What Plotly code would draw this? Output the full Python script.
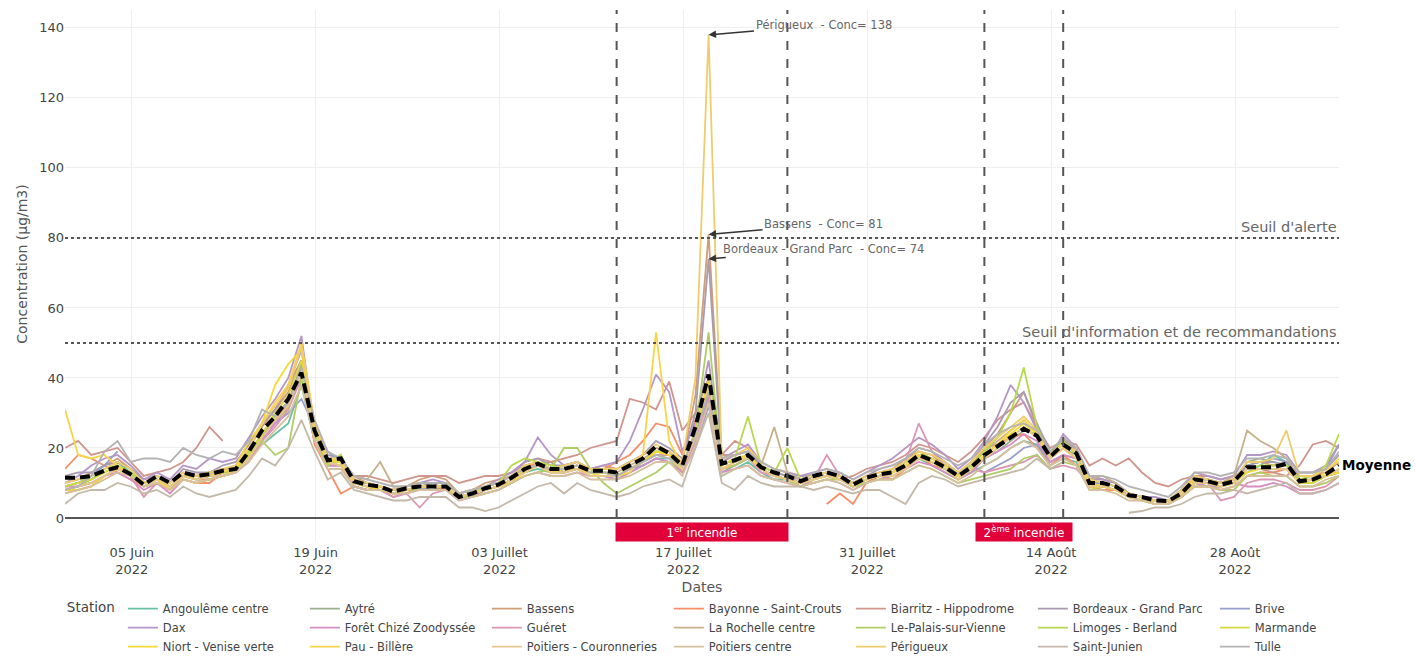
import pandas as pd
import plotly.graph_objects as go
import plotly.colors as pc

# ---------------- data ----------------
START = "2022-05-30 22:00"   # local midnight 31 May (UTC+2)
N_DAYS = 98

stations = ["Angoulême centre", "Aytré", "Bassens", "Bayonne - Saint-Crouts",
            "Biarritz - Hippodrome", "Bordeaux - Grand Parc", "Brive", "Dax",
            "Forêt Chizé Zoodyssée", "Guéret", "La Rochelle centre",
            "Le-Palais-sur-Vienne", "Limoges - Berland", "Marmande",
            "Niort - Venise verte", "Pau - Billère", "Poitiers - Couronneries",
            "Poitiers centre", "Périgueux", "Saint-Junien", "Tulle"]
# position of each station in the colour sequence (colours follow an accent-insensitive order)
colour_rank = [0, 1, 2, 3, 4, 5, 6, 7, 8, 9, 10, 11, 12, 13, 14, 15, 17, 18, 16, 19, 20]

angouleme = [9,10,11,14,16,13,9,10,8,12, 11,11,12,13,17,21,24,27,38,22, 15,18,9,8,8,7,8,8,8,9, 6,6,8,9,11,13,14,13,13,14, 12,12,11,13,15,17,17,13,22,35, 12,14,16,13,11,11,9,11,12,11, 9,10,12,13,15,17,15,13,11,13, 15,17,20,22,21,15,17,16,9,9, 8,6,5,5,4,6,10,9,9,10, 13,15,18,16,10,10,12,13]
aytre = [8,9,10,12,14,13,10,11,9,12, 12,13,13,13,17,22,30,33,44,26, 16,16,10,10,9,8,8,9,10,8, 6,7,8,9,10,14,15,16,13,14, 12,12,12,14,16,19,19,14,24,37, 13,15,17,14,12,11,10,11,12,11, 9,11,12,13,15,17,16,14,12,13, 17,19,22,25,24,17,20,18,10,10, 9,6,5,5,4,7,10,10,9,10, 16,17,16,15,10,11,12,14]
bassens = [10,11,13,15,17,14,10,12,10,13, 12,13,14,14,20,26,31,36,45,25, 17,16,12,10,9,8,9,11,12,11, 7,8,10,11,12,15,16,14,15,16, 14,15,14,16,18,20,19,16,35,81, 18,18,19,15,13,12,11,12,13,12, 10,12,13,14,17,19,18,15,13,15, 20,24,30,36,26,18,23,19,12,11, 10,7,6,5,5,8,12,11,10,11, 15,16,15,16,12,12,13,16]
bayonne = [14,18,17,15,13,11,9,11,8,11, 10,10,13,15,19,23,28,33,43,21, 14,7,9,8,9,7,7,9,9,8, 6,7,9,10,12,14,16,13,14,15, 13,14,16,18,22,27,26,18,28,35, 16,18,19,14,12,11,9,None,4,7, 4,10,12,11,14,18,15,14,12,14, 20,21,23,24,20,15,18,15,9,8, 8,6,5,5,4,6,9,9,8,9, 12,13,13,14,10,11,12,13]
biarritz = [20,22,18,19,20,16,12,13,14,16, 20,26,22,None,None,None,30,38,45,22, 15,15,12,12,11,10,11,12,12,12, 10,11,12,12,13,16,17,16,17,18, 20,21,22,34,33,31,39,25,30,40, 18,22,20,16,14,13,12,12,13,11, 12,14,15,16,18,21,20,18,16,19, 23,28,31,33,26,20,22,21,15,17, 15,17,13,10,9,11,12,12,11,12, 14,14,13,12,15,21,22,20]
bordeaux = [12,13,13,15,16,14,11,12,10,14, 13,13,15,16,21,27,31,38,48,26, 18,17,11,10,9,8,9,10,10,10, 7,8,9,10,12,16,17,15,15,16, 14,14,14,16,18,22,20,17,30,74, 16,18,19,15,13,12,10,12,13,12, 10,12,14,15,17,20,19,16,13,16, 21,26,33,36,27,19,22,20,11,11, 10,7,6,5,5,8,12,11,10,11, 16,16,16,15,12,12,14,18]
brive = [9,10,12,15,19,None,None,None,None,None, 11,12,13,14,18,24,27,30,34,26, 19,16,10,9,8,7,8,8,9,9, 6,7,8,9,11,13,15,14,13,14, 12,12,12,14,15,17,16,13,20,32, 14,15,17,14,12,11,10,12,12,11, 9,11,12,13,15,18,17,15,13,15, 13,15,17,20,21,16,18,17,10,10, 9,7,6,5,5,7,11,11,10,11, 15,16,17,16,12,12,14,21]
dax = [10,12,15,17,18,15,11,13,11,15, 14,17,16,17,23,29,34,40,52,25, 16,17,11,10,9,8,9,10,11,10, 7,8,9,11,13,16,23,18,15,16, 14,15,16,22,31,41,36,19,27,45, 17,19,21,16,14,13,12,13,14,13, 11,13,15,17,20,23,21,18,14,17, 22,29,38,33,25,17,24,20,12,11, 10,7,6,6,5,8,13,12,11,12, 18,18,19,18,13,13,15,21]
foret_chize = [9,9,10,12,13,11,8,10,7,11, 10,11,12,13,16,22,27,32,42,24, 15,15,9,8,8,6,7,8,8,8, 5,6,7,8,10,12,13,12,12,13, 12,12,11,13,15,17,16,13,22,34, 13,14,15,12,11,10,9,10,11,10, 8,10,11,12,14,16,15,13,11,13, 17,19,21,24,22,16,18,17,9,9, 8,6,5,4,4,6,10,9,9,10, 9,9,10,9,7,7,8,10]
gueret = [8,9,10,12,14,12,6,10,8,12, 11,11,12,13,17,22,26,31,40,24, 16,16,9,8,8,6,7,3,7,8, 6,6,8,9,11,14,15,13,13,14, 12,12,12,14,16,18,18,13,24,33, 14,15,17,13,12,11,9,11,18,12, 9,11,12,13,16,27,19,15,12,14, 13,14,15,16,18,14,15,14,10,9, 8,6,5,5,4,7,10,10,5,6, 10,11,11,10,8,8,9,12]
la_rochelle = [7,8,9,12,14,12,9,11,9,12, 12,13,13,14,18,23,28,31,43,27, 17,17,12,11,16,9,9,10,10,10, 7,8,9,10,12,14,15,14,14,15, 13,13,13,15,17,19,18,15,25,38, 16,16,17,15,26,13,11,12,13,12, 10,12,12,14,16,18,17,15,12,15, 19,22,25,28,24,18,22,19,11,12, 10,7,6,5,5,7,11,11,10,12, 25,22,20,17,11,11,12,13]
le_palais = [9,10,12,14,15,13,9,11,9,12, 11,12,13,14,18,22,18,20,40,25, 15,18,10,9,8,7,8,8,8,8, 6,6,7,8,10,12,13,14,20,20, 14,10,7,9,11,13,16,14,25,53, 14,15,17,14,12,11,9,10,11,11, 9,10,11,11,13,15,14,12,10,11, 12,13,14,17,18,14,16,15,9,9, 8,6,5,4,4,6,9,9,8,8, 12,13,12,12,9,9,10,12]
limoges = [8,9,11,13,15,13,10,11,9,12, 11,12,13,14,19,24,29,33,42,24, 15,18,10,9,9,7,8,9,9,9, 6,7,9,10,15,17,16,15,14,15, 13,13,12,14,16,19,18,14,24,40, 15,17,29,15,13,20,11,12,13,12, 10,11,12,13,16,19,17,15,12,15, 19,23,30,43,26,18,22,18,8,9, 8,6,5,5,4,7,11,10,9,10, 14,15,15,15,11,12,15,24]
marmande = [9,10,11,13,15,12,9,11,9,12, 11,12,12,13,18,24,30,35,45,26, 16,16,10,9,9,7,8,9,9,9, 6,7,8,9,11,13,15,13,14,14, 13,13,12,14,16,19,18,15,24,38, 15,17,18,14,12,11,10,11,12,11, 9,11,12,12,14,17,16,14,11,14, 17,20,23,26,23,17,20,17,10,9, 8,6,5,4,4,7,10,10,9,10, 14,14,14,14,10,10,12,14]
niort = [8,8,9,12,14,12,9,11,8,11, 10,11,12,14,20,27,38,44,48,25, 16,15,10,9,8,7,8,9,9,9, 6,7,8,9,11,14,15,13,14,14, 12,13,12,14,16,19,18,14,24,39, 14,16,18,14,12,11,10,11,12,11, 9,11,12,13,15,18,16,14,12,14, 18,21,24,27,24,17,20,17,9,9, 8,6,5,5,4,6,10,10,9,10, 13,14,14,14,10,11,12,13]
pau = [31,18,17,18,15,12,9,10,9,12, 11,12,13,15,22,27,33,38,50,27, 17,16,10,9,9,7,8,9,9,9, 6,7,8,9,10,13,15,13,13,14, 13,13,12,13,18,53,22,15,24,38, 14,16,18,14,12,11,10,11,12,11, 9,11,12,13,15,18,17,15,12,14, 18,21,25,28,24,17,20,17,10,9, 8,6,5,5,4,7,11,10,9,10, 14,14,14,14,10,11,13,17]
poitiers_cour = [8,9,10,12,14,12,9,11,9,12, 11,12,12,13,17,23,28,32,42,25, 16,15,10,9,9,7,8,9,9,9, 6,7,8,9,11,13,15,13,13,14, 12,12,12,14,16,18,17,14,23,37, 14,16,17,14,12,11,10,11,12,11, 9,11,12,12,14,17,16,14,11,14, 17,20,23,26,23,17,20,17,9,9, 8,6,5,5,4,7,10,10,9,10, 14,14,14,14,10,11,12,14]
poitiers_centre = [7,8,9,11,13,12,9,10,8,11, 10,11,12,13,16,21,25,29,38,22, 14,14,9,8,8,7,7,8,8,8, 5,6,7,8,10,12,13,12,12,13, 11,11,11,12,14,16,16,12,21,33, 12,14,15,12,11,10,9,10,11,10, 8,10,11,11,13,15,14,12,10,12, 15,17,20,22,20,15,17,15,8,8, 7,5,5,4,4,6,9,9,8,9, 12,12,12,12,9,9,11,12]
perigueux = [10,11,12,14,16,14,10,12,10,13, 12,13,14,15,20,27,32,37,49,27, 17,17,11,10,9,8,9,10,10,10, 7,8,9,10,12,15,16,14,15,16, 14,14,14,16,18,21,19,16,40,138, 17,18,20,16,14,13,11,12,13,12, 10,12,13,14,16,19,18,16,13,16, 20,23,26,29,25,18,21,19,11,10, 9,7,6,5,5,8,12,11,10,11, 16,16,17,25,12,12,14,16]
saint_junien = [4,7,8,8,10,9,7,8,6,9, 7,6,7,8,12,17,15,20,28,19, 11,13,8,7,6,5,5,6,6,6, 3,3,2,3,5,7,9,10,7,10, 8,7,6,7,9,10,11,9,20,30, 10,8,12,10,9,9,9,8,9,8, 7,8,8,6,4,10,12,11,9,10, 11,12,13,14,17,14,16,None,None,None, None,1.5,2,3,3,4,6,7,7,8, 7,8,9,10,7,7,8,10]
tulle = [8,9,12,19,22,16,17,17,16,20, 18,17,19,18,22,31,29,33,43,28, 19,17,12,11,10,9,9,10,10,10, 7,8,9,10,12,14,15,14,14,15, 13,13,12,14,16,18,17,15,24,36, 17,18,19,16,14,13,11,13,14,13, 11,13,14,15,17,20,19,17,15,17, 21,24,26,27,25,19,23,20,12,12, 11,9,8,7,6,9,13,13,12,13, 17,17,18,17,13,13,14,19]

series = [angouleme, aytre, bassens, bayonne, biarritz, bordeaux, brive, dax,
          foret_chize, gueret, la_rochelle, le_palais, limoges, marmande,
          niort, pau, poitiers_cour, poitiers_centre, perigueux,
          saint_junien, tulle]

moyenne = [11.5,11.5,12,13.5,14.5,12.5,9.5,12,10,13, 12,12.5,13.5,14,19,25,29,34,41.5,25,
           16.5,17,10.5,9.5,9,7.5,8.5,9,9,9, 6,7,8.5,9.5,11.5,14,15.5,14,14,15,
           13.5,13.5,13,15,17,20.5,18.5,15,26,41, 15.5,16.5,18,14.5,13,12,10.5,12,13,12,
           9.5,11.5,12.5,13,15,18,16.5,14.5,12,14.5, 18,20.5,23,25.5,23.5,17.5,21,18.5,10,10,
           9,6.5,6,5,4.8,7,11,10.5,9.5,10.5, 14.5,14.5,14.5,15.5,10.5,11,12.5,15]

tick_dates = ["2022-06-05", "2022-06-19", "2022-07-03", "2022-07-17",
              "2022-07-31", "2022-08-14", "2022-08-28"]
tick_labels = ["05 Juin<br>2022", "19 Juin<br>2022", "03 Juillet<br>2022",
               "17 Juillet<br>2022", "31 Juillet<br>2022", "14 Août<br>2022",
               "28 Août<br>2022"]

fire_limits = ["2022-07-11 22:00", "2022-07-24 22:00", "2022-08-08 22:00", "2022-08-14 22:00"]
fire_centres = ["2022-07-18 10:00", "2022-08-11 22:00"]
fire_labels = ["1<sup>er</sup> incendie", "2<sup>ème</sup> incendie"]

peak_date = "2022-07-18 22:00"
peak_labels = ["Périgueux  - Conc= 138", "Bassens  - Conc= 81", "Bordeaux - Grand Parc  - Conc= 74"]
peak_values = [138, 81, 74]

seuils = [80, 50]
seuil_labels = ["Seuil d'alerte", "Seuil d'information et de recommandations"]

dates = pd.date_range(START, periods=N_DAYS, freq="D")

# ---------------- figure ----------------
FONT = "DejaVu Sans"
cscale = pc.make_colorscale(pc.qualitative.Set2)
palette = pc.sample_colorscale(cscale, [i / (len(stations) - 1) for i in range(len(stations))])

fig = go.Figure()
for name, vals, rank in zip(stations, series, colour_rank):
    fig.add_trace(go.Scatter(x=dates, y=vals, mode="lines", name=name,
                             line=dict(color=palette[rank], width=1.8), connectgaps=False))

fig.add_trace(go.Scatter(x=dates, y=moyenne, mode="lines", name="Moyenne",
                         showlegend=False,
                         line=dict(color="black", width=4, dash="10px,5px")))

shapes = []
for fl in fire_limits:
    shapes.append(dict(type="line", xref="x", yref="paper", x0=fl, x1=fl, y0=0, y1=1,
                       line=dict(color="#555", width=2, dash="dash")))
for s in seuils:
    shapes.append(dict(type="line", xref="paper", yref="y", x0=0, x1=1, y0=s, y1=s,
                       line=dict(color="#555", width=2, dash="dot")))

annotations = []
for s, lab in zip(seuils, seuil_labels):
    annotations.append(dict(x=1, xref="paper", y=s, yref="y", text=lab, showarrow=False,
                            xanchor="right", yanchor="bottom", yshift=1,
                            font=dict(family=FONT, size=14.5, color="#666")))
for lab, v in zip(peak_labels, peak_values):
    annotations.append(dict(x=peak_date, y=v, xref="x", yref="y", text=lab,
                            showarrow=True, arrowhead=2, arrowsize=1, arrowwidth=1.5,
                            arrowcolor="#333", ax=115, ay=-10,
                            font=dict(family=FONT, size=11.5, color="#666")))
fire_widths = [172, 96]
for c, lab, w in zip(fire_centres, fire_labels, fire_widths):
    annotations.append(dict(x=c, xref="x", y=-0.0276, yref="paper", text=lab,
                            showarrow=False, bgcolor="#E2003A", width=w, height=18,
                            borderpad=0, yanchor="middle",
                            font=dict(family=FONT, size=12, color="white")))
annotations.append(dict(x=dates[-1], y=moyenne[-1], xref="x", yref="y", text="<b>Moyenne</b>",
                        showarrow=False, xanchor="left", xshift=1,
                        font=dict(family=FONT, size=13.5, color="black")))

fig.update_layout(
    width=1415, height=657,
    margin=dict(l=65, r=76, t=10, b=139, autoexpand=False),
    paper_bgcolor="white", plot_bgcolor="white",
    font=dict(family=FONT, size=12, color="#444"),
    shapes=shapes, annotations=annotations,
    legend=dict(orientation="h", x=-0.0001, xanchor="left", y=-0.15, yanchor="top",
                title=dict(text="Station", font=dict(size=13.5, color="#444")),
                entrywidth=137, entrywidthmode="pixels",
                font=dict(family=FONT, size=11.5, color="#444"),
                tracegroupgap=0),
    xaxis=dict(type="date", range=[dates[0], dates[-1]],
               tickvals=tick_dates, ticktext=tick_labels,
               showgrid=True, gridcolor="#eee", ticks="outside", ticklen=22,
               tickcolor="#eee", tickfont=dict(size=13, color="#444"),
               title=dict(text="Dates", font=dict(size=14, color="#555"), standoff=6),
               showline=False, zeroline=False),
    yaxis=dict(range=[0, 145.1], tickvals=[0, 20, 40, 60, 80, 100, 120, 140],
               showgrid=True, gridcolor="#eee", zeroline=True, zerolinecolor="#555",
               zerolinewidth=2, tickfont=dict(size=13, color="#444"),
               title=dict(text="Concentration (µg/m3)", font=dict(size=14, color="#555"),
                          standoff=8)),
)

# remove the browser's default page margin so the figure sits at the window origin
fig.write_html("out.html", config={"displayModeBar": False},
               post_script="document.body.style.margin='0';document.body.style.overflow='hidden';")
